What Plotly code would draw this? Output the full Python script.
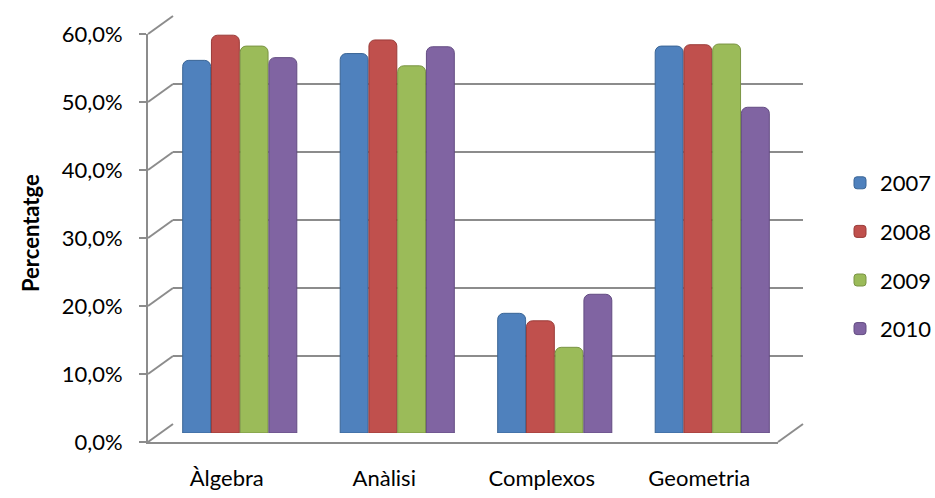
import plotly.graph_objects as go

# ---- data ----
categories = ["Àlgebra", "Anàlisi", "Complexos", "Geometria"]
years = ["2007", "2008", "2009", "2010"]
v2007 = [54.8, 55.8, 17.6, 56.9]
v2008 = [58.5, 57.8, 16.5, 57.1]
v2009 = [56.9, 54.0, 12.6, 57.2]
v2010 = [55.2, 56.8, 20.4, 47.9]
tick_values = [0, 10, 20, 30, 40, 50, 60]
tick_labels = ["0,0%", "10,0%", "20,0%", "30,0%", "40,0%", "50,0%", "60,0%"]
y_title = "Percentatge"

series = [v2007, v2008, v2009, v2010]
colors = ["#4F81BD", "#C0504D", "#9BBB59", "#8064A2"]
edges = ["#3A6596", "#9A3B38", "#7A9444", "#634C82"]

W, H = 935, 498
def fx(px):
    return px / W
def fy(py):
    return 1 - py / H

GRID = "#8C8C8C"
FONT = "Lato, 'Open Sans', sans-serif"

fig = go.Figure()
# empty helper traces so that the back-wall and front-axis subplots are created
fig.add_trace(go.Scatter(x=[], y=[], xaxis="x", yaxis="y", showlegend=False,
                         hoverinfo="skip"))
fig.add_trace(go.Scatter(x=[], y=[], xaxis="x3", yaxis="y3", showlegend=False,
                         hoverinfo="skip"))
for name, vals, c, e in zip(years, series, colors, edges):
    fig.add_trace(go.Bar(
        x=categories, y=vals, name=name, xaxis="x2", yaxis="y2",
        marker=dict(color=c, line=dict(color=e, width=1), cornerradius=6),
        legendgroup=name,
    ))

# 3D-like decorations: slanted connectors from front axis to back wall
shapes = []
scale = 6.8
for v in tick_values:
    shapes.append(dict(type="line", xref="paper", yref="paper",
                       x0=fx(148), y0=fy(442 - scale * v),
                       x1=fx(173), y1=fy(424 - scale * v),
                       line=dict(color=GRID, width=2), layer="below"))
shapes.append(dict(type="line", xref="paper", yref="paper",
                   x0=fx(778), y0=fy(442), x1=fx(803), y1=fy(424),
                   line=dict(color=GRID, width=2), layer="below"))

fig.update_layout(
    width=W, height=H,
    margin=dict(l=0, r=0, t=0, b=0, autoexpand=False),
    paper_bgcolor="white", plot_bgcolor="rgba(0,0,0,0)",
    font=dict(family=FONT, color="black", size=22),
    barmode="group", bargap=0.27, bargroupgap=0.03,
    shapes=shapes,
    # back wall grid
    xaxis=dict(domain=[fx(173), fx(803)], anchor="y", range=[0, 1],
               showgrid=False, zeroline=False, showline=False,
               showticklabels=False, ticks=""),
    yaxis=dict(domain=[fy(424), fy(16)], anchor="x", range=[-0.05, 60.05],
               tickvals=tick_values, showgrid=True, gridcolor=GRID, gridwidth=2,
               showticklabels=False, zeroline=False, showline=False, ticks=""),
    # bars (mid depth)
    xaxis2=dict(domain=[fx(161), fx(791)], anchor="y2", showticklabels=False,
                showgrid=False, zeroline=False, showline=False, ticks="",
                categoryorder="array", categoryarray=categories),
    yaxis2=dict(domain=[fy(433), fy(25)], anchor="x2", range=[0, 60],
                showgrid=False, zeroline=False, showline=False,
                showticklabels=False, ticks=""),
    # front axes
    xaxis3=dict(domain=[fx(148), fx(778)], anchor="y3", range=[-0.5, 3.5],
                tickvals=[0, 1, 2, 3], ticktext=categories, showgrid=False,
                zeroline=False, showline=True, linecolor=GRID, linewidth=2,
                ticks="", ticklabelstandoff=16, tickfont=dict(size=22),
                automargin=False),
    yaxis3=dict(domain=[fy(442), fy(34)], anchor="x3", range=[0, 60],
                tickvals=tick_values, ticktext=tick_labels, showgrid=False,
                zeroline=False, showline=True, linecolor=GRID, linewidth=2,
                ticks="outside", ticklen=7, tickwidth=2, tickcolor=GRID,
                ticklabelstandoff=12, tickfont=dict(size=22), automargin=False),
    legend=dict(x=fx(840), y=fy(162), xanchor="left", yanchor="top",
                font=dict(size=22), traceorder="grouped", tracegroupgap=17,
                bgcolor="rgba(0,0,0,0)"),
    annotations=[dict(text="<b>" + y_title + "</b>", textangle=-90,
                      xref="paper", yref="paper", x=fx(30), y=fy(233),
                      xanchor="center", yanchor="middle",
                      showarrow=False, font=dict(size=22))],
)

fig.write_html("out.html", config={"displayModeBar": False},
               post_script="document.body.style.margin='0';")
